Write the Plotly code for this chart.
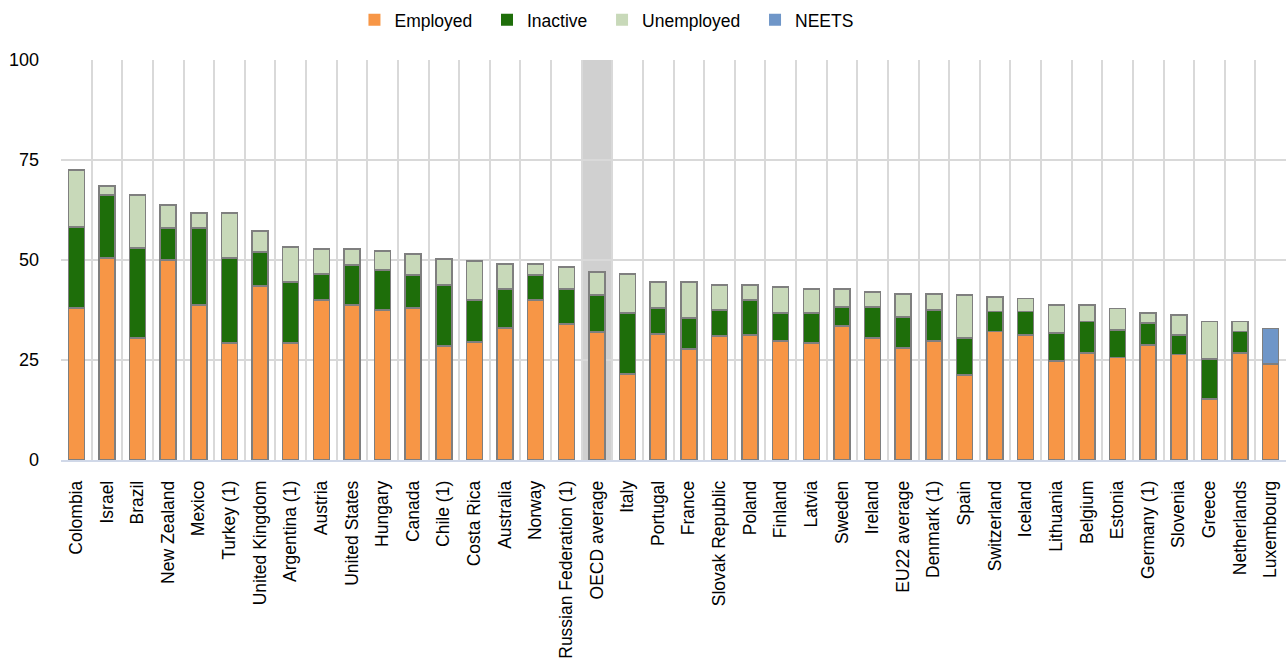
import plotly.graph_objects as go

countries = ["Colombia", "Israel", "Brazil", "New Zealand", "Mexico", "Turkey (1)",
             "United Kingdom", "Argentina (1)", "Austria", "United States", "Hungary",
             "Canada", "Chile (1)", "Costa Rica", "Australia", "Norway",
             "Russian Federation (1)", "OECD average", "Italy", "Portugal", "France",
             "Slovak Republic", "Poland", "Finland", "Latvia", "Sweden", "Ireland",
             "EU22 average", "Denmark (1)", "Spain", "Switzerland", "Iceland",
             "Lithuania", "Belgium", "Estonia", "Germany (1)", "Slovenia", "Greece",
             "Netherlands", "Luxembourg"]

employed = [38.0, 50.5, 30.5, 50.0, 38.75, 29.25, 43.5, 29.25, 40.0, 38.75, 37.5,
            38.0, 28.5, 29.5, 33.0, 40.0, 34.0, 32.0, 21.5, 31.5, 27.75,
            31.0, 31.25, 29.75, 29.25, 33.5, 30.5, 28.0, 29.75, 21.25, 32.1, 31.25,
            24.75, 26.8, 25.6, 28.75, 26.4, 15.25, 26.8, 24.0]
inactive = [20.25, 15.75, 22.5, 8.0, 19.25, 21.25, 8.5, 15.25, 6.5, 10.0, 10.0,
            8.25, 15.25, 10.5, 9.75, 6.25, 8.75, 9.25, 15.25, 6.5, 7.75,
            6.5, 8.75, 7.0, 7.5, 4.75, 7.75, 7.75, 7.75, 9.25, 5.0, 5.85,
            6.95, 7.8, 6.9, 5.45, 4.85, 9.95, 5.3, None]
unemployed = [14.25, 2.25, 13.25, 5.75, 3.75, 11.25, 5.25, 8.75, 6.25, 4.0, 4.75,
              5.25, 6.5, 9.75, 6.25, 2.75, 5.5, 5.75, 9.75, 6.5, 9.0,
              6.25, 3.75, 6.5, 6.0, 4.5, 3.75, 5.75, 4.0, 10.75, 3.7, 3.3,
              7.05, 4.15, 5.4, 2.6, 4.95, 9.4, 2.5, None]
neets = [None] * 39 + [8.9]

series_names = ["Employed", "Inactive", "Unemployed", "NEETS"]
series_colors = ["#F79646", "#1E6E0A", "#C8D9B9", "#6F96C8"]
y_ticks = [0, 25, 50, 75, 100]

font_family = "Liberation Sans, Arial, sans-serif"
outline = dict(color="#7F7F7F", width=1.5)
pad = "\u00a0\u00a0"

fig = go.Figure()
for name, vals, color in zip(series_names, [employed, inactive, unemployed, neets],
                             series_colors):
    fig.add_trace(go.Bar(name=name, x=countries, y=vals, showlegend=False,
                         legendgroup=name,
                         marker=dict(color=color, line=outline)))
# legend entries (swatches without outline)
for name, color in zip(series_names, series_colors):
    fig.add_trace(go.Bar(name=name + pad, x=[countries[0]], y=[None],
                         legendgroup=name, showlegend=True,
                         marker=dict(color=color, line=dict(width=0))))

oecd_idx = countries.index("OECD average")
fig.add_shape(type="rect", xref="x", yref="y", x0=oecd_idx - 0.5, x1=oecd_idx + 0.5,
              y0=0, y1=100, fillcolor="#D0D0D0", line=dict(width=0), layer="below")

fig.update_layout(
    barmode="stack",
    bargap=0.48,
    width=1287, height=663,
    margin=dict(l=61, r=1, t=60, b=203),
    paper_bgcolor="white", plot_bgcolor="white",
    font=dict(family=font_family, size=17.5, color="#000000"),
    legend=dict(orientation="h", x=0.4751, xanchor="center", xref="container",
                y=0.997, yanchor="top", yref="container",
                font=dict(size=17.5), traceorder="normal"),
    showlegend=True,
)
fig.update_xaxes(type="category", tickson="boundaries", showgrid=True,
                 gridcolor="#D9D9D9", gridwidth=1.5, tickangle=-90,
                 ticks="", showline=True, linecolor="#D0D8E8", linewidth=1.5,
                 ticklabelstandoff=12,
                 tickfont=dict(size=17.5), range=[-0.5, len(countries) - 0.5])
fig.update_yaxes(range=[0, 100], tickvals=y_ticks, showgrid=True,
                 gridcolor="#D9D9D9", gridwidth=1.5, zeroline=False,
                 ticklabelstandoff=21, tickfont=dict(size=18))

fig.write_html("out.html", config={"displayModeBar": False},
               post_script="document.body.style.margin='0';")
